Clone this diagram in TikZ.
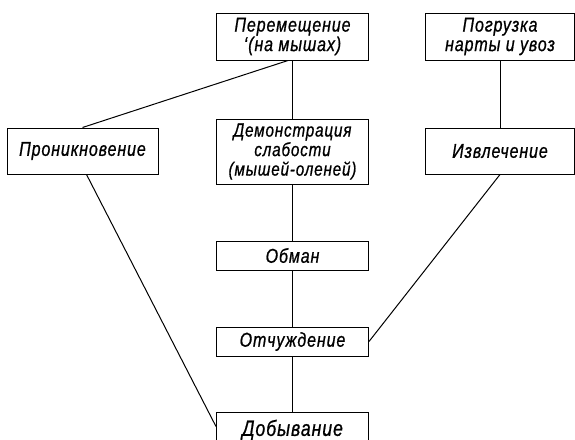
\documentclass[tikz,border=0pt]{standalone}
\usepackage{fontspec}
\newfontfamily\gostfont{Liberation Sans}[LetterSpace=4.5,FakeStretch=0.8,FakeBold=0.8]
\begin{document}
\begin{tikzpicture}[x=1pt,y=-1pt,
  every node/.style={font=\gostfont\itshape\fontsize{20}{19.5}\selectfont},
  stage/.style={draw, line width=1pt, inner sep=0pt, align=center,
    minimum width=152pt},
  link/.style={line width=1pt}]
\clip (0,0) rectangle (575,439);
\fill[white] (0,0) rectangle (575,439);

% top row
\node[stage, minimum height=47pt] (move) at (292.5,36.5) {Перемещение\\‘(на мышах)};
\node[stage, minimum height=47pt, minimum width=149pt] (load) at (500,36.5) {Погрузка\\нарты и увоз};

% middle row
\node[stage, minimum height=46pt, minimum width=151pt] (pen) at (82.5,151) {Проникновение};
\node[stage, minimum height=65pt, font=\gostfont\itshape\fontsize{19}{19.5}\selectfont] (demo) at (292.5,151.5) {Демонстрация\\слабости\\(мышей-оленей)};
\node[stage, minimum height=46pt, minimum width=149pt] (extr) at (500,151) {Извлечение};

% central column
\node[stage, minimum height=29pt] (deceit) at (292.5,255.5) {Обман};
\node[stage, minimum height=29pt] (alien) at (292.5,341.5) {Отчуждение};
\node[stage, minimum height=36pt, font=\gostfont\itshape\fontsize{22}{23}\selectfont] (gain) at (292.5,430) {Добывание};

% connectors
\draw[link] (pen.north) -- ([xshift=-4.5pt]move.south);
\draw[link] ([xshift=4pt]pen.south) -- ([yshift=-15pt]gain.north west);
\draw[link] (move.south) -- (demo.north);
\draw[link] (demo.south) -- (deceit.north);
\draw[link] (deceit.south) -- (alien.north);
\draw[link] (alien.south) -- (gain.north);
\draw[link] (load.south) -- (extr.north);
\draw[link] (extr.south) -- (alien.east);
\end{tikzpicture}
\end{document}
